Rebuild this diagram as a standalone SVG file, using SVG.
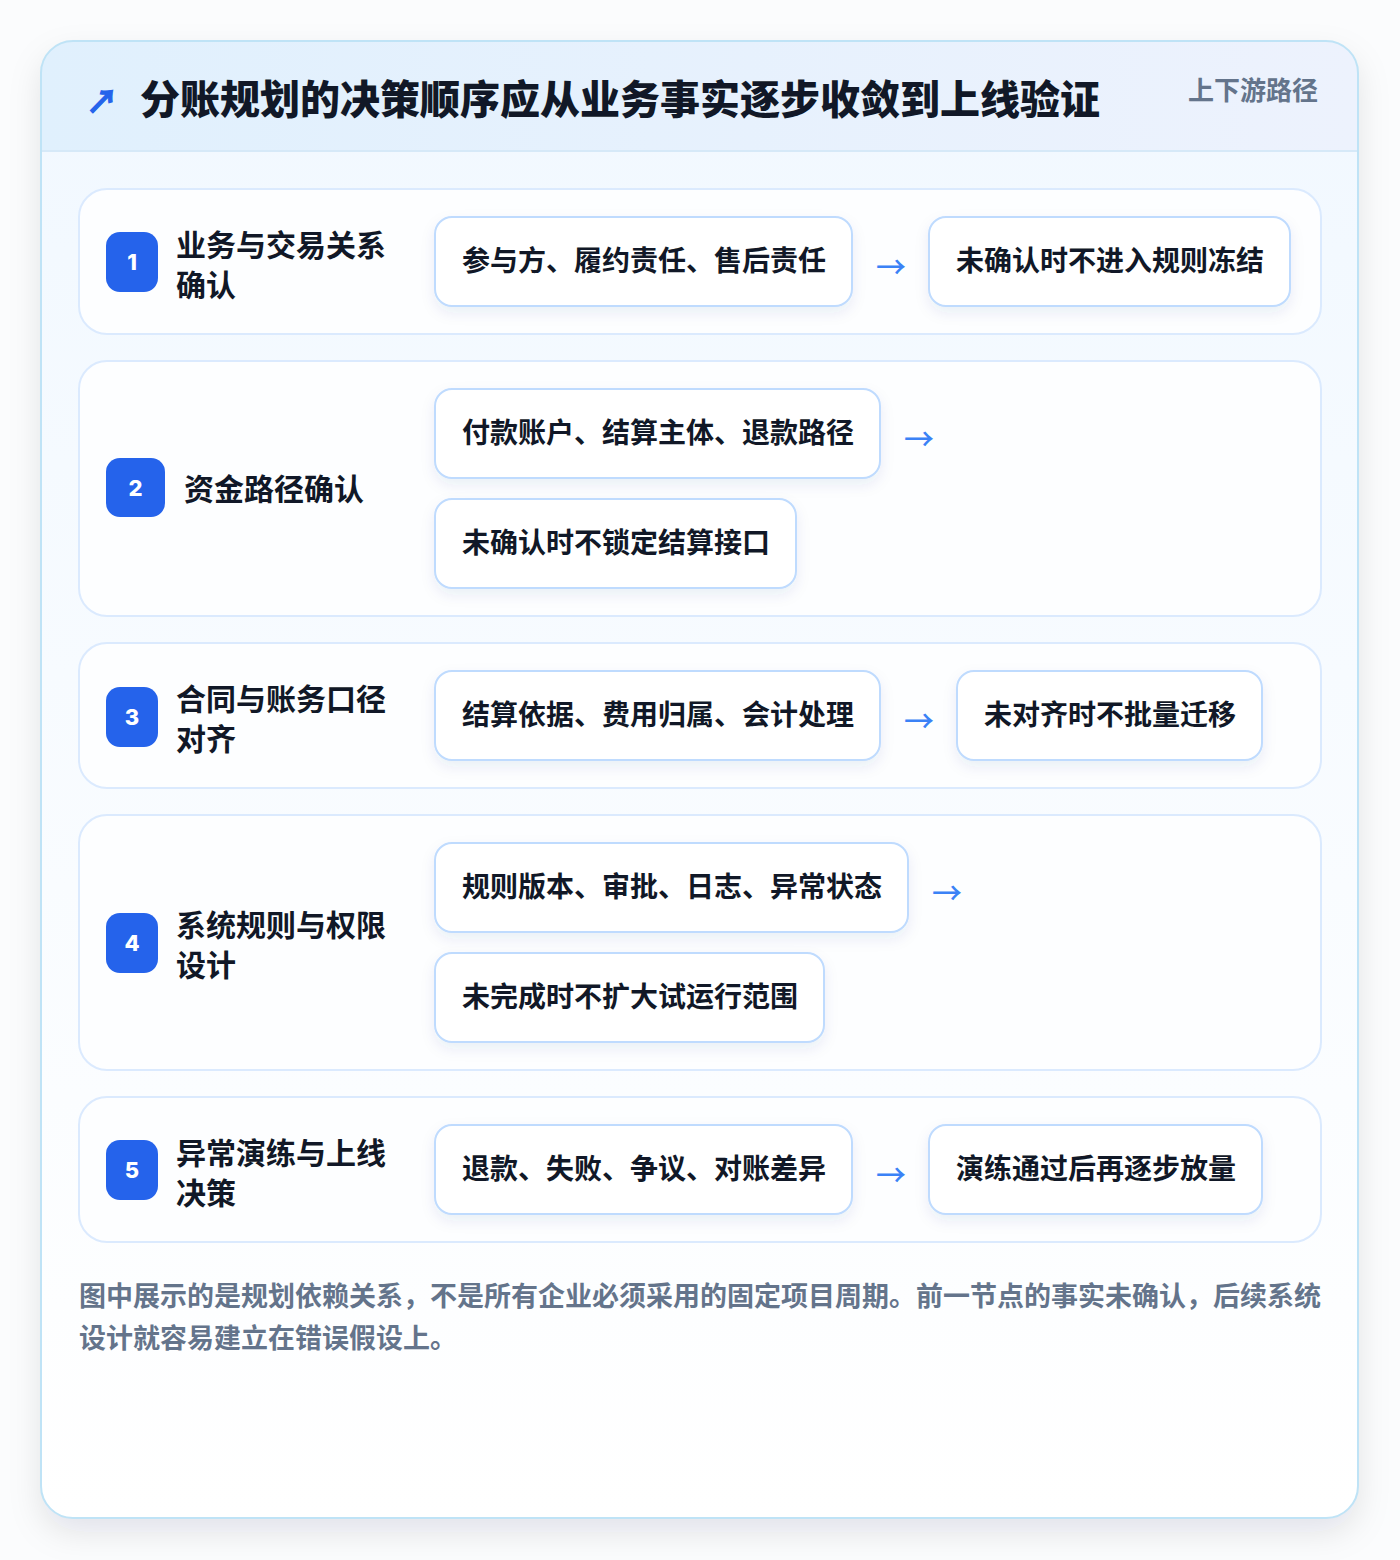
<svg xmlns="http://www.w3.org/2000/svg" width="1400" height="1560" viewBox="0 0 1400 1560">
<defs>
<linearGradient id="hdr" x1="0" y1="0" x2="1" y2="0">
<stop offset="0" stop-color="#e0f0fd"/>
<stop offset="1" stop-color="#edf2fd"/>
</linearGradient>
<linearGradient id="body" x1="0" y1="0" x2="0" y2="1">
<stop offset="0" stop-color="#f1f8ff"/>
<stop offset="1" stop-color="#ffffff"/>
</linearGradient>
<filter id="cardShadow" x="-10%" y="-10%" width="120%" height="120%">
<feDropShadow dx="0" dy="14" stdDeviation="16" flood-color="#0f172a" flood-opacity="0.10"/>
</filter>
<filter id="boxShadow" x="-10%" y="-20%" width="120%" height="160%">
<feDropShadow dx="0" dy="6" stdDeviation="7" flood-color="#1e3a8a" flood-opacity="0.08"/>
</filter>
<clipPath id="cardClip"><rect x="41" y="41" width="1317" height="1477" rx="32"/></clipPath>
<style>
.row{fill:#fdfeff;stroke:#dbeafe;stroke-width:2}
.box{fill:#ffffff;stroke:#bfdbfe;stroke-width:2}
.badge{fill:#2563eb}
.num{font-family:"Inter","Noto Sans",sans-serif;font-weight:800;font-size:22px;fill:#ffffff;text-anchor:middle}
.lbl{font-family:"Noto Sans CJK SC","Noto Sans",sans-serif;font-weight:700;font-size:30px;fill:#111827}
.bt{font-family:"Noto Sans CJK SC","Noto Sans",sans-serif;font-weight:700;font-size:28px;fill:#111827}
.arr{font-family:"Noto Sans CJK SC",sans-serif;font-weight:500;font-size:30px;fill:#3b82f6}
.title{font-family:"Noto Sans CJK SC","Noto Sans",sans-serif;font-weight:800;font-size:40px;fill:#111827}
.tag{font-family:"Noto Sans CJK SC","Noto Sans",sans-serif;font-weight:700;font-size:26px;fill:#64748b}
.foot{font-family:"Noto Sans CJK SC","Noto Sans",sans-serif;font-weight:700;font-size:27px;fill:#64748b}
</style>
</defs>
<rect x="0" y="0" width="1400" height="1560" fill="#fbfcfd"/>
<g id="card">
<rect x="41" y="41" width="1317" height="1477" rx="32" fill="url(#body)" filter="url(#cardShadow)"/>
<g clip-path="url(#cardClip)">
<rect x="41" y="41" width="1317" height="110" fill="url(#hdr)"/>
<line x1="41" y1="151" x2="1358" y2="151" stroke="#d6e9f8" stroke-width="2"/>
</g>
<rect x="41" y="41" width="1317" height="1477" rx="32" fill="none" stroke="#bfe3f6" stroke-width="2"/>
</g>
<g id="header">
<text x="86" y="113" font-family="Noto Sans CJK SC,sans-serif" font-weight="700" font-size="32" fill="#2563eb" stroke="#2563eb" stroke-width="1.2">↗</text>
<text class="title" x="140" y="114">分账规划的决策顺序应从业务事实逐步收敛到上线验证</text>
<text class="tag" x="1188" y="100">上下游路径</text>
</g>
<g id="row1">
<rect class="row" x="79" y="189" width="1242" height="145" rx="28"/>
<rect class="badge" x="106" y="232" width="52" height="60" rx="14"/>
<text class="num" x="132" y="270">1</text>
<text class="lbl" x="176" y="256">业务与交易关系</text>
<text class="lbl" x="176" y="296">确认</text>
<g id="n1a"><rect class="box" x="435" y="217" width="417" height="89" rx="17" filter="url(#boxShadow)"/>
<text class="bt" x="462" y="271">参与方、履约责任、售后责任</text></g>
<g id="n1b"><rect class="box" x="929" y="217" width="361" height="89" rx="17" filter="url(#boxShadow)"/>
<text class="bt" x="956" y="271">未确认时不进入规则冻结</text></g>
</g>
<g id="row2">
<rect class="row" x="79" y="361" width="1242" height="255" rx="28"/>
<rect class="badge" x="106" y="458" width="59" height="59" rx="14"/>
<text class="num" x="135.5" y="496">2</text>
<text class="lbl" x="184" y="500">资金路径确认</text>
<g id="n2a"><rect class="box" x="435" y="389" width="445" height="89" rx="17" filter="url(#boxShadow)"/>
<text class="bt" x="462" y="443">付款账户、结算主体、退款路径</text></g>
<g id="n2b"><rect class="box" x="435" y="499" width="361" height="89" rx="17" filter="url(#boxShadow)"/>
<text class="bt" x="462" y="553">未确认时不锁定结算接口</text></g>
</g>
<g id="row3">
<rect class="row" x="79" y="643" width="1242" height="145" rx="28"/>
<rect class="badge" x="106" y="687" width="52" height="60" rx="14"/>
<text class="num" x="132" y="725">3</text>
<text class="lbl" x="176" y="710">合同与账务口径</text>
<text class="lbl" x="176" y="750">对齐</text>
<g id="n3a"><rect class="box" x="435" y="671" width="445" height="89" rx="17" filter="url(#boxShadow)"/>
<text class="bt" x="462" y="725">结算依据、费用归属、会计处理</text></g>
<g id="n3b"><rect class="box" x="957" y="671" width="305" height="89" rx="17" filter="url(#boxShadow)"/>
<text class="bt" x="984" y="725">未对齐时不批量迁移</text></g>
</g>
<g id="row4">
<rect class="row" x="79" y="815" width="1242" height="255" rx="28"/>
<rect class="badge" x="106" y="913" width="52" height="60" rx="14"/>
<text class="num" x="132" y="951">4</text>
<text class="lbl" x="176" y="936">系统规则与权限</text>
<text class="lbl" x="176" y="976">设计</text>
<g id="n4a"><rect class="box" x="435" y="843" width="473" height="89" rx="17" filter="url(#boxShadow)"/>
<text class="bt" x="462" y="897">规则版本、审批、日志、异常状态</text></g>
<g id="n4b"><rect class="box" x="435" y="953" width="389" height="89" rx="17" filter="url(#boxShadow)"/>
<text class="bt" x="462" y="1007">未完成时不扩大试运行范围</text></g>
</g>
<g id="row5">
<rect class="row" x="79" y="1097" width="1242" height="145" rx="28"/>
<rect class="badge" x="106" y="1140" width="52" height="60" rx="14"/>
<text class="num" x="132" y="1178">5</text>
<text class="lbl" x="176" y="1164">异常演练与上线</text>
<text class="lbl" x="176" y="1204">决策</text>
<g id="n5a"><rect class="box" x="435" y="1125" width="417" height="89" rx="17" filter="url(#boxShadow)"/>
<text class="bt" x="462" y="1179">退款、失败、争议、对账差异</text></g>
<g id="n5b"><rect class="box" x="929" y="1125" width="333" height="89" rx="17" filter="url(#boxShadow)"/>
<text class="bt" x="956" y="1179">演练通过后再逐步放量</text></g>
</g>
<g id="connectors">
<text class="arr" x="876" y="278">→</text>
<text class="arr" x="904" y="450">→</text>
<text class="arr" x="904" y="732">→</text>
<text class="arr" x="932" y="904">→</text>
<text class="arr" x="876" y="1186">→</text>
</g>
<g id="footer">
<text class="foot" x="79" y="1306">图中展示的是规划依赖关系，不是所有企业必须采用的固定项目周期。前一节点的事实未确认，后续系统</text>
<text class="foot" x="79" y="1348">设计就容易建立在错误假设上。</text>
</g>
</svg>
